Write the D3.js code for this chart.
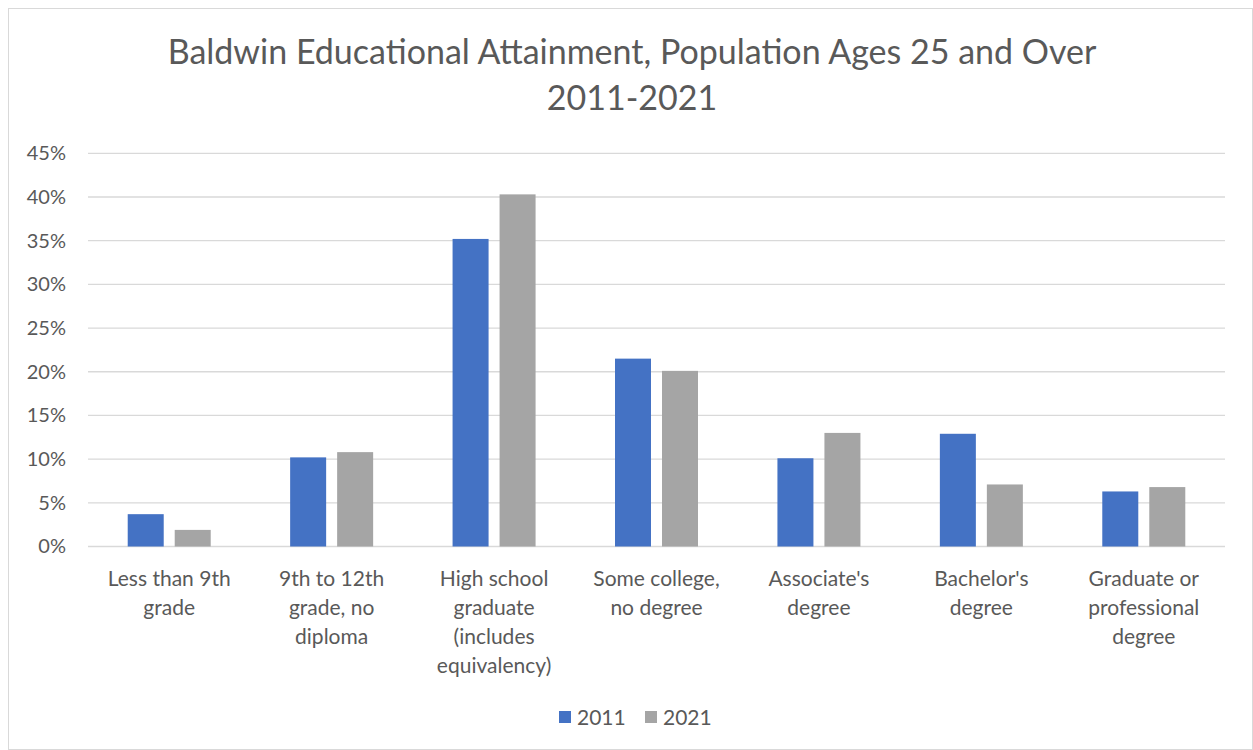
<!DOCTYPE html>
<html><head><meta charset="utf-8">
<script src="https://cdn.jsdelivr.net/npm/d3@7"></script>
<style>
html,body{margin:0;padding:0;background:#fff;}
svg{display:block;}
text{font-family:Lato,"Open Sans",sans-serif;fill:#595959;}
</style></head>
<body><svg id="c" width="1253" height="750"></svg>
<script>
const titleLines = ["Baldwin Educational Attainment, Population Ages 25 and Over", "2011-2021"];
const categories = [
  "Less than 9th\ngrade",
  "9th to 12th\ngrade, no\ndiploma",
  "High school\ngraduate\n(includes\nequivalency)",
  "Some college,\nno degree",
  "Associate's\ndegree",
  "Bachelor's\ndegree",
  "Graduate or\nprofessional\ndegree"
];
const seriesNames = ["2011", "2021"];
const values2011 = [3.7, 10.2, 35.2, 21.5, 10.1, 12.9, 6.3];
const values2021 = [1.9, 10.8, 40.3, 20.1, 13.0, 7.1, 6.8];
const yTicks = [0, 5, 10, 15, 20, 25, 30, 35, 40, 45];
const colors = ["#4472C4", "#A5A5A5"];

const svg = d3.select("#c");
svg.append("rect").attr("x", 8.5).attr("y", 8.5).attr("width", 1244).attr("height", 741)
  .attr("fill", "#fff").attr("stroke", "#d9d9d9");

const m = {left: 88, right: 1225, top: 153.3, bottom: 546.5};
const x = d3.scaleBand().domain(categories).range([m.left, m.right]);
const xs = d3.scaleBand().domain(seriesNames).range([0, x.bandwidth()]).paddingInner(0.234).paddingOuter(0.845);
const y = d3.scaleLinear().domain([0, 45]).range([m.bottom, m.top]);

// title
svg.append("g").selectAll("text").data(titleLines).join("text")
  .attr("x", 632).attr("y", (d, i) => 64 + i * 46)
  .attr("text-anchor", "middle").style("font-size", "34px").text(d => d);

// gridlines
svg.append("g").selectAll("line").data(yTicks).join("line")
  .attr("x1", m.left).attr("x2", m.right)
  .attr("y1", d => y(d)).attr("y2", d => y(d))
  .attr("stroke", "#d9d9d9").attr("stroke-width", 1.3);

// y axis labels
const yAxis = d3.axisLeft(y).tickValues(yTicks).tickFormat(d => d + "%").tickSize(0).tickPadding(22);
const ga = svg.append("g").attr("transform", `translate(${m.left},0)`).call(yAxis);
ga.select(".domain").remove();
ga.selectAll("text").style("font-size", "20px").style("font-family", "Lato,'Open Sans',sans-serif").attr("fill", "#595959");

// bars
const data = categories.map((c, i) => ({c, vals: [values2011[i], values2021[i]]}));
const groups = svg.append("g").selectAll("g").data(data).join("g")
  .attr("transform", d => `translate(${x(d.c)},0)`);
groups.selectAll("rect").data(d => d.vals.map((v, j) => ({s: seriesNames[j], v, j}))).join("rect")
  .attr("x", d => xs(d.s)).attr("width", xs.bandwidth())
  .attr("y", d => y(d.v)).attr("height", d => y(0) - y(d.v))
  .attr("fill", d => colors[d.j]);

// x labels
const xl = svg.append("g").selectAll("text").data(categories).join("text")
  .attr("x", d => x(d) + x.bandwidth() / 2).attr("y", 586)
  .attr("text-anchor", "middle").style("font-size", "21px");
xl.selectAll("tspan").data(d => d.split("\n")).join("tspan")
  .attr("x", function() { return d3.select(this.parentNode).attr("x"); })
  .attr("dy", (d, i) => i === 0 ? 0 : 29).text(d => d);

// legend
const lg = svg.append("g");
const legendX = [559, 645];
seriesNames.forEach((s, i) => {
  lg.append("rect").attr("x", legendX[i]).attr("y", 711).attr("width", 12).attr("height", 12).attr("fill", colors[i]);
  lg.append("text").attr("x", legendX[i] + 18).attr("y", 725).style("font-size", "21px").text(s);
});
</script></body></html>
